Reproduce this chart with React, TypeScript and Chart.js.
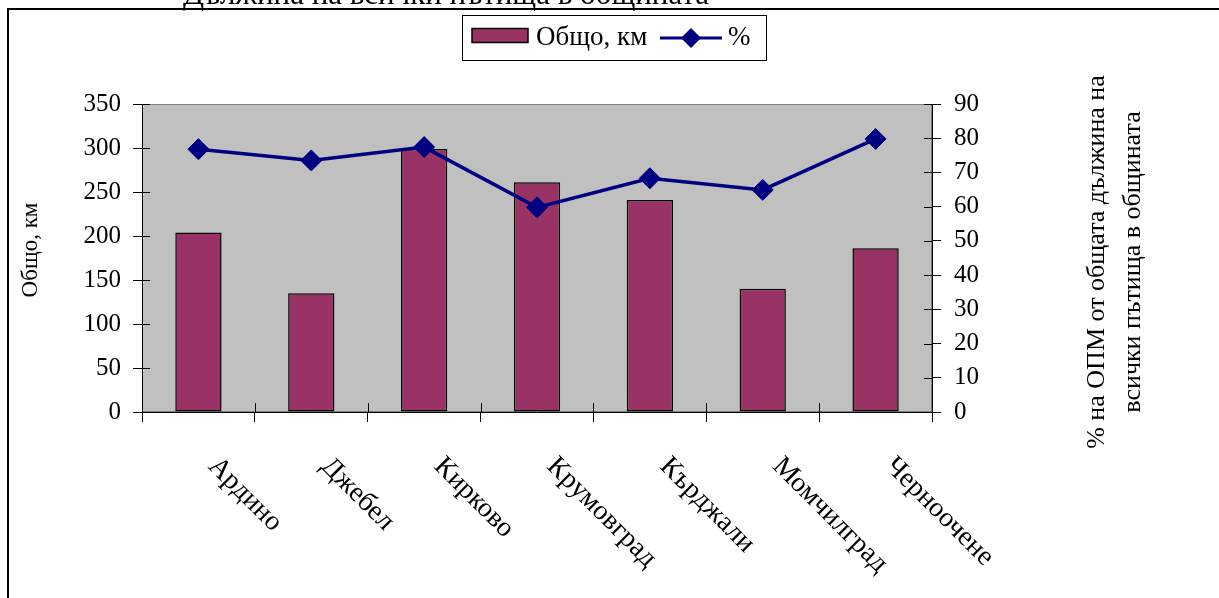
import React, { useEffect, useRef } from "react";
import { Chart, registerables } from "chart.js";

Chart.register(...registerables);

const categories = ["Ардино", "Джебел", "Кирково", "Крумовград", "Кърджали", "Момчилград", "Черноочене"];
const totalKm = [204, 135, 299, 261, 241, 140, 186];
const percentOPM = [76.8, 73.5, 77.4, 59.8, 68.3, 64.9, 79.8];
const leftTicks = { min: 0, max: 350, step: 50 };
const rightTicks = { min: 0, max: 90, step: 10 };
const titleText = "Дължина на всички пътища в общината";
const barLabel = "Общо, км";
const lineLabel = "%";
const leftAxisTitle = "Общо, км";
const rightAxisTitle = ["% на ОПМ от общата дължина на", "всички пътища в общината"];

const FONT = '"Liberation Serif", "Times New Roman", serif';
const BAR_COLOR = "#993366";
const LINE_COLOR = "#000080";
const PLOT_BG = "#C0C0C0";

const W = 1219;
const H = 598;
const PLOT_LEFT = 142;
const PLOT_RIGHT = 932;
const PLOT_TOP = 104;
const PLOT_BOTTOM = 412;

const decorPlugin = {
  id: "decor",
  beforeDraw(chart: any) {
    const { ctx, chartArea } = chart;
    ctx.save();
    ctx.fillStyle = "#ffffff";
    ctx.fillRect(0, 0, W, H);
    ctx.fillStyle = PLOT_BG;
    ctx.fillRect(chartArea.left, chartArea.top, chartArea.right - chartArea.left, chartArea.bottom - chartArea.top);
    ctx.strokeStyle = "#808080";
    ctx.lineWidth = 1;
    ctx.strokeRect(chartArea.left + 0.5, chartArea.top + 0.5, chartArea.right - chartArea.left - 1, chartArea.bottom - chartArea.top - 1);
    ctx.strokeStyle = "#000000";
    ctx.lineWidth = 2;
    ctx.strokeRect(8, 9, W + 20, H + 20);
    ctx.restore();
  },
  afterDraw(chart: any) {
    const { ctx, chartArea, scales } = chart;
    const x = scales.x;
    const y = scales.y;
    const y1 = scales.y1;
    ctx.save();
    ctx.strokeStyle = "#000000";
    ctx.lineWidth = 1;
    ctx.beginPath();
    y.ticks.forEach((t: any) => {
      const py = Math.round(y.getPixelForValue(t.value)) + 0.5;
      ctx.moveTo(chartArea.left, py);
      ctx.lineTo(chartArea.left + 8, py);
    });
    y1.ticks.forEach((t: any) => {
      const py = Math.round(y1.getPixelForValue(t.value)) + 0.5;
      ctx.moveTo(chartArea.right - 8, py);
      ctx.lineTo(chartArea.right, py);
    });
    const step = x.getPixelForValue(1) - x.getPixelForValue(0);
    for (let i = 0; i <= categories.length; i++) {
      const px = Math.round(x.getPixelForValue(i) - step / 2) + 0.5;
      ctx.moveTo(px, chartArea.bottom - 9);
      ctx.lineTo(px, chartArea.bottom);
    }
    ctx.stroke();

    ctx.fillStyle = "#000000";
    ctx.font = `28px ${FONT}`;
    ctx.textAlign = "left";
    ctx.textBaseline = "middle";
    categories.forEach((c, i) => {
      const px = x.getPixelForValue(i);
      ctx.save();
      ctx.translate(px + 14, chartArea.bottom + 50);
      ctx.rotate(Math.PI / 4);
      ctx.fillText(c, 0, 0);
      ctx.restore();
    });

    ctx.font = `31px ${FONT}`;
    ctx.textAlign = "center";
    ctx.textBaseline = "alphabetic";
    ctx.fillText(titleText, 446, 4);

    const midY = (chartArea.top + chartArea.bottom) / 2;
    ctx.font = `23px ${FONT}`;
    ctx.save();
    ctx.translate(31, midY - 8);
    ctx.rotate(-Math.PI / 2);
    ctx.textAlign = "center";
    ctx.textBaseline = "middle";
    ctx.fillText(leftAxisTitle, 0, 0);
    ctx.restore();

    ctx.font = `26px ${FONT}`;
    ctx.save();
    ctx.translate(1097, midY + 4);
    ctx.rotate(-Math.PI / 2);
    ctx.textAlign = "center";
    ctx.textBaseline = "middle";
    ctx.fillText(rightAxisTitle[0], 0, 0);
    ctx.fillText(rightAxisTitle[1], 0, 36);
    ctx.restore();

    ctx.fillStyle = "#ffffff";
    ctx.fillRect(462, 15, 304, 45);
    ctx.strokeStyle = "#000000";
    ctx.lineWidth = 1;
    ctx.strokeRect(462.5, 15.5, 304, 45);
    ctx.fillStyle = BAR_COLOR;
    ctx.fillRect(472, 28.5, 56, 14);
    ctx.lineWidth = 1.5;
    ctx.strokeRect(472, 28.5, 56, 14);
    ctx.fillStyle = "#000000";
    ctx.font = `27px ${FONT}`;
    ctx.textAlign = "left";
    ctx.textBaseline = "middle";
    ctx.fillText(barLabel, 536, 38);
    ctx.strokeStyle = LINE_COLOR;
    ctx.lineWidth = 3;
    ctx.beginPath();
    ctx.moveTo(660, 38);
    ctx.lineTo(722, 38);
    ctx.stroke();
    ctx.fillStyle = LINE_COLOR;
    ctx.beginPath();
    ctx.moveTo(691, 28);
    ctx.lineTo(701, 38);
    ctx.lineTo(691, 48);
    ctx.lineTo(681, 38);
    ctx.closePath();
    ctx.fill();
    ctx.fillStyle = "#000000";
    ctx.fillText(lineLabel, 728, 38);
    ctx.restore();
  },
};

export default function App() {
  const ref = useRef<HTMLCanvasElement | null>(null);
  useEffect(() => {
    if (!ref.current) return;
    const chart = new Chart(ref.current, {
      type: "bar",
      data: {
        labels: categories,
        datasets: [
          {
            type: "line",
            label: lineLabel,
            data: percentOPM,
            yAxisID: "y1",
            borderColor: LINE_COLOR,
            backgroundColor: LINE_COLOR,
            borderWidth: 3.5,
            pointStyle: "rectRot",
            pointRadius: 10.5,
            pointBorderWidth: 1,
            pointBackgroundColor: LINE_COLOR,
            pointBorderColor: LINE_COLOR,
            tension: 0,
            order: 1,
          } as any,
          {
            type: "bar",
            label: barLabel,
            data: totalKm,
            yAxisID: "y",
            backgroundColor: BAR_COLOR,
            borderColor: "#000000",
            borderWidth: 1.5,
            borderSkipped: false,
            categoryPercentage: 1,
            barPercentage: 0.41,
            order: 2,
          } as any,
        ],
      },
      options: {
        responsive: false,
        animation: false,
        devicePixelRatio: 1,
        layout: { padding: { top: PLOT_TOP, left: 0, right: 0, bottom: 0 } },
        plugins: { legend: { display: false }, title: { display: false }, tooltip: { enabled: false } },
        scales: {
          x: {
            offset: true,
            grid: { display: true, drawOnChartArea: false, drawTicks: true, tickLength: 10, color: "#000000", offset: true },
            border: { display: true, color: "#000000", width: 1 },
            ticks: { display: false },
            afterFit: (s: any) => { s.height = H - PLOT_BOTTOM; },
          },
          y: {
            position: "left",
            min: leftTicks.min,
            max: leftTicks.max,
            ticks: { stepSize: leftTicks.step, color: "#000000", font: { family: FONT, size: 25 }, padding: 12 },
            grid: { display: true, drawOnChartArea: false, drawTicks: true, tickLength: 9, color: "#000000" },
            border: { display: true, color: "#000000", width: 1 },
            afterFit: (s: any) => { s.width = PLOT_LEFT; },
          },
          y1: {
            position: "right",
            min: rightTicks.min,
            max: rightTicks.max,
            ticks: { stepSize: rightTicks.step, color: "#000000", font: { family: FONT, size: 25 }, padding: 13 },
            grid: { display: true, drawOnChartArea: false, drawTicks: true, tickLength: 9, color: "#000000" },
            border: { display: true, color: "#000000", width: 1 },
            afterFit: (s: any) => { s.width = W - PLOT_RIGHT; },
          },
        },
      },
      plugins: [decorPlugin],
    });
    return () => chart.destroy();
  }, []);
  return (
    <div style={{ position: "fixed", left: 0, top: 0, width: W, height: H, background: "#fff" }}>
      <canvas ref={ref} width={W} height={H} style={{ display: "block", width: W, height: H }} />
    </div>
  );
}
